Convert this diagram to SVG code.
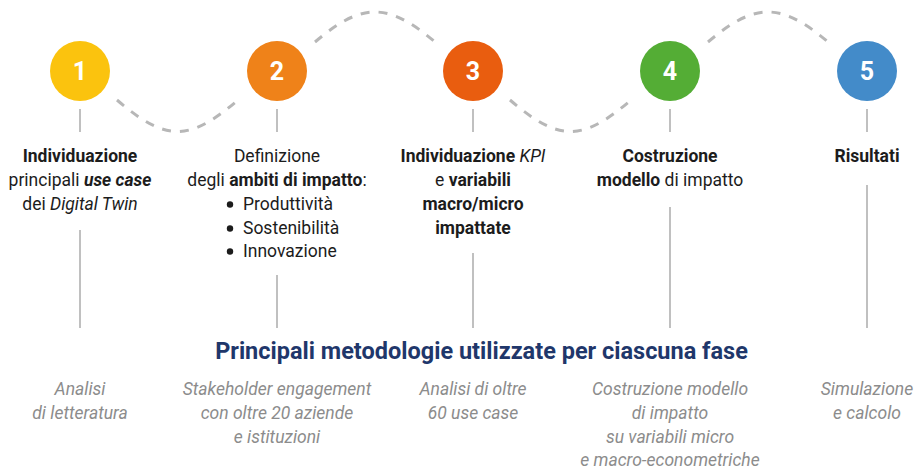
<svg xmlns="http://www.w3.org/2000/svg" width="915" height="472" viewBox="0 0 915 472">
<style>
.wave{fill:none;stroke:#b7b7b7;stroke-width:3;stroke-dasharray:9 9}
.vl{stroke:#c0c0c0;stroke-width:2}
.num{font-family:Roboto,"Liberation Sans",sans-serif;font-weight:700;font-size:25px;fill:#fff;text-anchor:middle}
.t{font-family:Roboto,"Liberation Sans",sans-serif;font-size:17.5px;fill:#1c1c1c;text-anchor:middle}
.b{font-weight:700}
.i{font-style:italic}
.m{font-family:Roboto,"Liberation Sans",sans-serif;font-size:17.5px;font-style:italic;fill:#8c8c8c;text-anchor:middle}
.h{font-family:Roboto,"Liberation Sans",sans-serif;font-size:23.5px;font-weight:700;fill:#1f376b;text-anchor:middle}
</style>
<rect width="915" height="472" fill="#fff"/>
<g id="connectors">
<path class="wave" d="M117,100 C166,142 189,142 238,100"/>
<path class="wave" d="M315,42 C362,2 388,2 435,42"/>
<path class="wave" d="M510,100 C559,142 582,142 631,100"/>
<path class="wave" d="M708,42 C755,2 781,2 828,42"/>
<line class="vl" x1="80" y1="109" x2="80" y2="132"/>
<line class="vl" x1="277" y1="109" x2="277" y2="132"/>
<line class="vl" x1="473" y1="109" x2="473" y2="132"/>
<line class="vl" x1="670" y1="109" x2="670" y2="132"/>
<line class="vl" x1="867" y1="109" x2="867" y2="132"/>
<line class="vl" x1="80" y1="230" x2="80" y2="328"/>
<line class="vl" x1="277" y1="275" x2="277" y2="328"/>
<line class="vl" x1="473" y1="253" x2="473" y2="328"/>
<line class="vl" x1="670" y1="207" x2="670" y2="328"/>
<line class="vl" x1="867" y1="185" x2="867" y2="328"/>
</g>
<g id="node1">
<circle cx="80" cy="71" r="30" fill="#fbc30e"/>
<text class="num" x="80" y="80">1</text>
<text class="t" x="80" y="162"><tspan class="b">Individuazione</tspan></text>
<text class="t" x="80" y="186">principali <tspan class="b i">use case</tspan></text>
<text class="t" x="80" y="210">dei <tspan class="i">Digital Twin</tspan></text>
<text class="m" x="80" y="395">Analisi</text>
<text class="m" x="80" y="419">di letteratura</text>
</g>
<g id="node2">
<circle cx="277" cy="71" r="30" fill="#ef8219"/>
<text class="num" x="277" y="80">2</text>
<text class="t" x="277" y="162">Definizione</text>
<text class="t" x="277" y="186">degli <tspan class="b">ambiti di impatto</tspan>:</text>
<circle cx="230" cy="204.5" r="3.2" fill="#1c1c1c"/>
<circle cx="230" cy="228.5" r="3.2" fill="#1c1c1c"/>
<circle cx="230" cy="251.5" r="3.2" fill="#1c1c1c"/>
<text class="t" x="243" y="210" style="text-anchor:start">Produttività</text>
<text class="t" x="243" y="234" style="text-anchor:start">Sostenibilità</text>
<text class="t" x="243" y="257" style="text-anchor:start">Innovazione</text>
<text class="m" x="277" y="395">Stakeholder engagement</text>
<text class="m" x="277" y="419">con oltre 20 aziende</text>
<text class="m" x="277" y="443">e istituzioni</text>
</g>
<g id="node3">
<circle cx="473" cy="71" r="30" fill="#e95d0f"/>
<text class="num" x="473" y="80">3</text>
<text class="t" x="473" y="162"><tspan class="b">Individuazione</tspan> <tspan class="i">KPI</tspan></text>
<text class="t" x="473" y="186">e <tspan class="b">variabili</tspan></text>
<text class="t b" x="473" y="210">macro/micro</text>
<text class="t b" x="473" y="234">impattate</text>
<text class="m" x="473" y="395">Analisi di oltre</text>
<text class="m" x="473" y="419">60 use case</text>
</g>
<g id="node4">
<circle cx="670" cy="71" r="30" fill="#54ad35"/>
<text class="num" x="670" y="80">4</text>
<text class="t b" x="670" y="162">Costruzione</text>
<text class="t" x="670" y="186"><tspan class="b">modello</tspan> di impatto</text>
<text class="m" x="670" y="395">Costruzione modello</text>
<text class="m" x="670" y="419">di impatto</text>
<text class="m" x="670" y="443">su variabili micro</text>
<text class="m" x="670" y="466">e macro-econometriche</text>
</g>
<g id="node5">
<circle cx="867" cy="71" r="30" fill="#438bc9"/>
<text class="num" x="867" y="80">5</text>
<text class="t b" x="867" y="162">Risultati</text>
<text class="m" x="867" y="395">Simulazione</text>
<text class="m" x="867" y="419">e calcolo</text>
</g>
<g id="heading">
<text class="h" x="481.5" y="359">Principali metodologie utilizzate per ciascuna fase</text>
</g>
</svg>
